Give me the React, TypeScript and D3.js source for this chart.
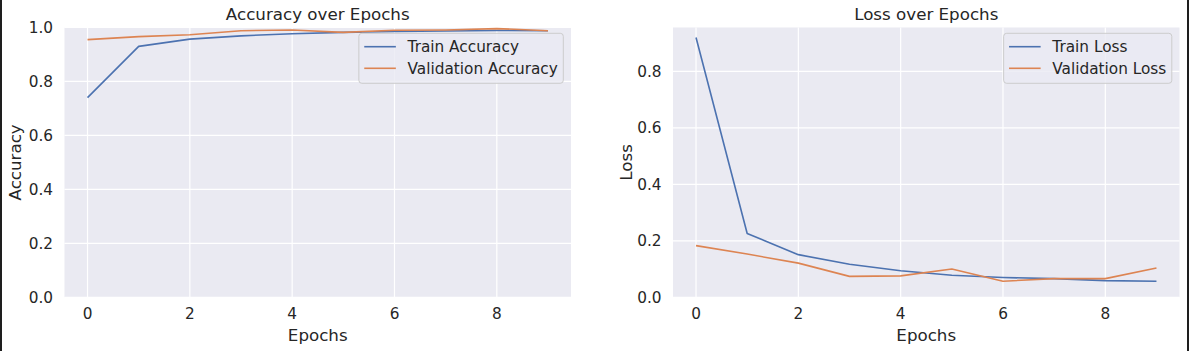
import * as d3 from "d3";
import React, { useRef, useEffect } from "react";

// values
const epochs = [0, 1, 2, 3, 4, 5, 6, 7, 8, 9];
const trainAccuracy = [0.740, 0.930, 0.957, 0.969, 0.977, 0.982, 0.985, 0.987, 0.989, 0.988];
const valAccuracy = [0.955, 0.966, 0.973, 0.988, 0.991, 0.982, 0.990, 0.991, 0.996, 0.988];
const trainLoss = [0.920, 0.226, 0.151, 0.117, 0.094, 0.078, 0.070, 0.066, 0.059, 0.057];
const valLoss = [0.183, 0.153, 0.121, 0.074, 0.076, 0.100, 0.057, 0.066, 0.066, 0.104];
const epochTicks = [0, 2, 4, 6, 8];
const accuracyTicks = [0, 0.2, 0.4, 0.6, 0.8, 1.0];
const lossTicks = [0, 0.2, 0.4, 0.6, 0.8];

const W = 1189;
const H = 351;
const FONT = "DejaVu Sans";
const TEXT = "#262626";
const BG = "#EAEAF2";
const BLUE = "#4C72B0";
const ORANGE = "#DD8452";

function drawPanel(svg, cfg) {
    const { left, right, top, bottom, yMax, yTicks, title, yLabel, yLabelX, series, labels } = cfg;

    const x = d3.scaleLinear().domain([-0.45, 9.45]).range([left, right]);
    const y = d3.scaleLinear().domain([0, yMax]).range([bottom, top]);

    const g = svg.append("g");

    g.append("rect")
        .attr("x", left)
        .attr("y", top)
        .attr("width", right - left)
        .attr("height", bottom - top)
        .attr("fill", BG);

    // grid
    g.selectAll(".vgrid")
        .data(epochTicks)
        .enter()
        .append("line")
        .attr("x1", (d) => x(d))
        .attr("x2", (d) => x(d))
        .attr("y1", top)
        .attr("y2", bottom)
        .attr("stroke", "#fff")
        .attr("stroke-width", 1.2);

    g.selectAll(".hgrid")
        .data(yTicks)
        .enter()
        .append("line")
        .attr("x1", left)
        .attr("x2", right)
        .attr("y1", (d) => y(d))
        .attr("y2", (d) => y(d))
        .attr("stroke", "#fff")
        .attr("stroke-width", 1.2);

    // tick labels
    g.selectAll(".xtick")
        .data(epochTicks)
        .enter()
        .append("text")
        .attr("x", (d) => x(d))
        .attr("y", bottom + 21.7)
        .attr("text-anchor", "middle")
        .attr("font-family", FONT)
        .attr("font-size", 15.3)
        .attr("fill", TEXT)
        .text((d) => d);

    g.selectAll(".ytick")
        .data(yTicks)
        .enter()
        .append("text")
        .attr("x", left - 11.5)
        .attr("y", (d) => y(d))
        .attr("dy", "0.36em")
        .attr("text-anchor", "end")
        .attr("font-family", FONT)
        .attr("font-size", 15.3)
        .attr("fill", TEXT)
        .text((d) => d3.format(".1f")(d));

    // lines
    const line = d3
        .line()
        .x((d, i) => x(epochs[i]))
        .y((d) => y(d));

    series.forEach((s, i) => {
        g.append("path")
            .datum(s)
            .attr("d", line)
            .attr("fill", "none")
            .attr("stroke", i === 0 ? BLUE : ORANGE)
            .attr("stroke-width", 1.6)
            .attr("stroke-linejoin", "round");
    });

    // titles
    const cx = (left + right) / 2;
    g.append("text")
        .attr("x", cx)
        .attr("y", 19.6)
        .attr("text-anchor", "middle")
        .attr("font-family", FONT)
        .attr("font-size", 16.7)
        .attr("fill", TEXT)
        .text(title);

    g.append("text")
        .attr("x", cx)
        .attr("y", 340.5)
        .attr("text-anchor", "middle")
        .attr("font-family", FONT)
        .attr("font-size", 16.7)
        .attr("fill", TEXT)
        .text("Epochs");

    g.append("text")
        .attr("transform", `translate(${yLabelX}, ${(top + bottom) / 2}) rotate(-90)`)
        .attr("text-anchor", "middle")
        .attr("font-family", FONT)
        .attr("font-size", 16.7)
        .attr("fill", TEXT)
        .text(yLabel);

    // legend
    const leg = g.append("g");
    const box = leg.append("rect");
    const rows = [top + 19.2, top + 40.8];
    const texts = labels.map((lab, i) =>
        leg
            .append("text")
            .attr("y", rows[i])
            .attr("dy", "0.36em")
            .attr("font-family", FONT)
            .attr("font-size", 15.3)
            .attr("fill", TEXT)
            .text(lab)
    );
    const maxLen = d3.max(texts, (t) => t.node().getComputedTextLength());
    const boxW = 48.7 + maxLen + 5.5;
    const boxX = right - 7.7 - boxW;
    box.attr("x", boxX)
        .attr("y", top + 5.8)
        .attr("width", boxW)
        .attr("height", 50)
        .attr("rx", 3)
        .attr("fill", BG)
        .attr("fill-opacity", 0.8)
        .attr("stroke", "#cccccc")
        .attr("stroke-width", 1);
    texts.forEach((t) => t.attr("x", boxX + 48.7));
    labels.forEach((lab, i) => {
        leg.append("line")
            .attr("x1", boxX + 5.4)
            .attr("x2", boxX + 37)
            .attr("y1", rows[i])
            .attr("y2", rows[i])
            .attr("stroke", i === 0 ? BLUE : ORANGE)
            .attr("stroke-width", 1.6);
    });
}

function App() {
    const ref = useRef(null);

    useEffect(() => {
        const svg = d3.select(ref.current);
        svg.selectAll("*").remove();

        svg.append("rect").attr("width", W).attr("height", H).attr("fill", "#fff");

        drawPanel(svg, {
            left: 64.5,
            right: 571,
            top: 27.5,
            bottom: 297.3,
            yMax: 1.0,
            yTicks: accuracyTicks,
            title: "Accuracy over Epochs",
            yLabel: "Accuracy",
            yLabelX: 20.7,
            series: [trainAccuracy, valAccuracy],
            labels: ["Train Accuracy", "Validation Accuracy"],
        });

        const lossMax = d3.max([...trainLoss, ...valLoss]);
        const lossMin = d3.min([...trainLoss, ...valLoss]);
        drawPanel(svg, {
            left: 673,
            right: 1179.5,
            top: 27.5,
            bottom: 297.3,
            yMax: lossMax + 0.05 * (lossMax - lossMin) - 0.008,
            yTicks: lossTicks,
            title: "Loss over Epochs",
            yLabel: "Loss",
            yLabelX: 631.5,
            series: [trainLoss, valLoss],
            labels: ["Train Loss", "Validation Loss"],
        });

        // dark frame edges of the screenshot
        svg.append("rect").attr("x", 0).attr("y", 0).attr("width", 2).attr("height", H).attr("fill", "#1e1e1e");
        svg.append("rect").attr("x", W - 2).attr("y", 0).attr("width", 2).attr("height", H).attr("fill", "#1e1e1e");
    }, []);

    return (
        <svg
            ref={ref}
            width={W}
            height={H}
            style={{ position: "absolute", left: 0, top: 0, display: "block" }}
        ></svg>
    );
}

export default App;
